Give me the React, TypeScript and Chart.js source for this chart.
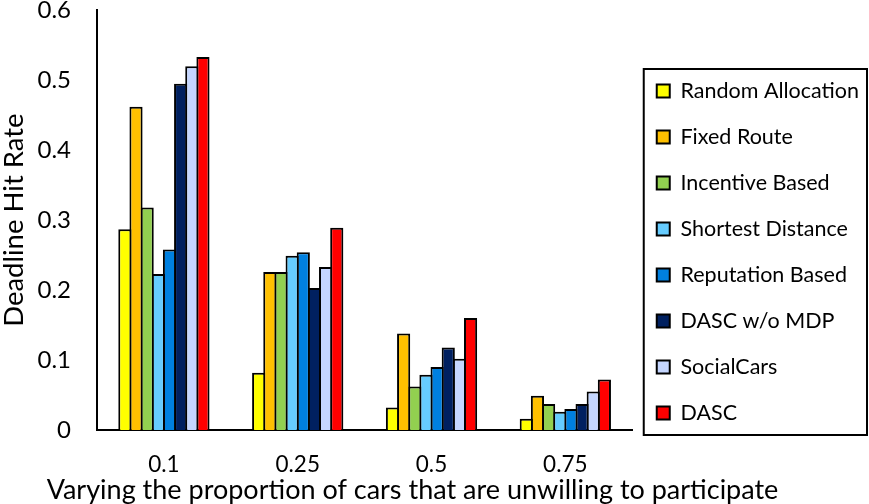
import { useEffect, useRef } from 'react';
import { Chart, registerables } from 'chart.js';
import type { Plugin } from 'chart.js';

Chart.register(...registerables);

const categories = ['0.1', '0.25', '0.5', '0.75'];
const seriesNames = [
  'Random Allocation',
  'Fixed Route',
  'Incentive Based',
  'Shortest Distance',
  'Reputation Based',
  'DASC w/o MDP',
  'SocialCars',
  'DASC',
];
const seriesColors = ['#FFFF00', '#FFC000', '#92D050', '#66CCFF', '#0080E0', '#002060', '#C5D6FF', '#FF0000'];

const randomAllocation = [0.287, 0.082, 0.032, 0.016];
const fixedRoute = [0.462, 0.226, 0.138, 0.049];
const incentiveBased = [0.318, 0.226, 0.062, 0.037];
const shortestDistance = [0.223, 0.249, 0.079, 0.026];
const reputationBased = [0.258, 0.254, 0.090, 0.030];
const dascNoMdp = [0.495, 0.203, 0.118, 0.037];
const socialCars = [0.520, 0.233, 0.102, 0.055];
const dasc = [0.533, 0.289, 0.160, 0.072];

const yTickLabels = ['0', '0.1', '0.2', '0.3', '0.4', '0.5', '0.6'];
const xTitle = 'Varying the proportion of cars that are unwilling to participate';

const FONT = 'Lato, "Open Sans", sans-serif';
const X_TITLE_SIZE = 27;
const X_TITLE_PAD = 0.5;

// frame round the legend, placed from the legend's own hit boxes
const legendFrame: Plugin<'bar'> = {
  id: 'legendFrame',
  afterDraw(chart) {
    const legend: any = chart.legend;
    if (!legend || !legend.legendHitBoxes?.length) return;
    const boxes = legend.legendHitBoxes;
    const first = boxes[0];
    const last = boxes[boxes.length - 1];
    const ctx = chart.ctx;
    const left = first.left - 13;
    const right = legend.right - 2;
    const top = first.top + first.height / 2 - 22;
    const bottom = last.top + last.height / 2 + 22;
    ctx.save();
    ctx.strokeStyle = '#000';
    ctx.lineWidth = 2;
    ctx.strokeRect(left, top, right - left, bottom - top);
    ctx.restore();
  },
};

// x title is wider than the plot, so draw it without the scale's maxWidth squeeze
const wideXTitle: Plugin<'bar'> = {
  id: 'wideXTitle',
  afterDraw(chart) {
    const xs = chart.scales.x;
    const ctx = chart.ctx;
    ctx.save();
    ctx.font = `${X_TITLE_SIZE}px ${FONT}`;
    ctx.fillStyle = '#000';
    ctx.textAlign = 'center';
    ctx.textBaseline = 'middle';
    ctx.fillText(xTitle, chart.width / 2 - 22, xs.bottom - X_TITLE_PAD - X_TITLE_SIZE / 2);
    ctx.restore();
  },
};

export default function App() {
  const canvasRef = useRef<HTMLCanvasElement>(null);

  useEffect(() => {
    document.body.style.margin = '0';
    if (!canvasRef.current) return;
    const values = [
      randomAllocation,
      fixedRoute,
      incentiveBased,
      shortestDistance,
      reputationBased,
      dascNoMdp,
      socialCars,
      dasc,
    ];
    const chart = new Chart(canvasRef.current, {
      type: 'bar',
      data: {
        labels: categories,
        datasets: seriesNames.map((name, i) => ({
          label: name,
          data: values[i],
          backgroundColor: seriesColors[i],
          borderColor: '#000',
          borderWidth: 2,
          categoryPercentage: 0.667,
          barPercentage: 1.18,
        })),
      },
      options: {
        animation: false,
        responsive: true,
        maintainAspectRatio: false,
        layout: { padding: 0 },
        plugins: {
          tooltip: { enabled: false },
          legend: {
            position: 'right',
            maxWidth: 300,
            labels: {
              color: '#000',
              font: { family: FONT, size: 21.5, lineHeight: 1 },
              boxWidth: 13,
              boxHeight: 13,
              padding: 24.5,
            },
          },
        },
        scales: {
          x: {
            grid: { display: false, drawTicks: true, tickLength: 23 },
            border: { display: true, color: '#000', width: 2 },
            ticks: {
              color: '#000',
              padding: 0,
              font: { family: FONT, size: 22.5, lineHeight: 1 },
            },
            title: {
              display: true,
              text: xTitle,
              color: 'rgba(0,0,0,0)',
              font: { family: FONT, size: X_TITLE_SIZE, lineHeight: 1 },
              padding: { top: 1, bottom: X_TITLE_PAD },
            },
          },
          y: {
            min: 0,
            max: 0.6,
            grid: { display: false, drawTicks: true, tickLength: 26 },
            border: { display: true, color: '#000', width: 2 },
            ticks: {
              stepSize: 0.1,
              color: '#000',
              padding: 0,
              font: { family: FONT, size: 24, lineHeight: 0.85 },
              callback: (_v, i) => yTickLabels[i],
            },
            title: {
              display: true,
              text: 'Deadline Hit Rate',
              color: '#000',
              font: { family: FONT, size: 27.5, lineHeight: 1 },
              padding: { top: 0, bottom: 10 },
            },
          },
        },
      },
      plugins: [legendFrame, wideXTitle],
    });
    return () => chart.destroy();
  }, []);

  return (
    <div style={{ width: 869, height: 504, position: 'relative', background: '#fff' }}>
      <canvas ref={canvasRef} />
    </div>
  );
}
